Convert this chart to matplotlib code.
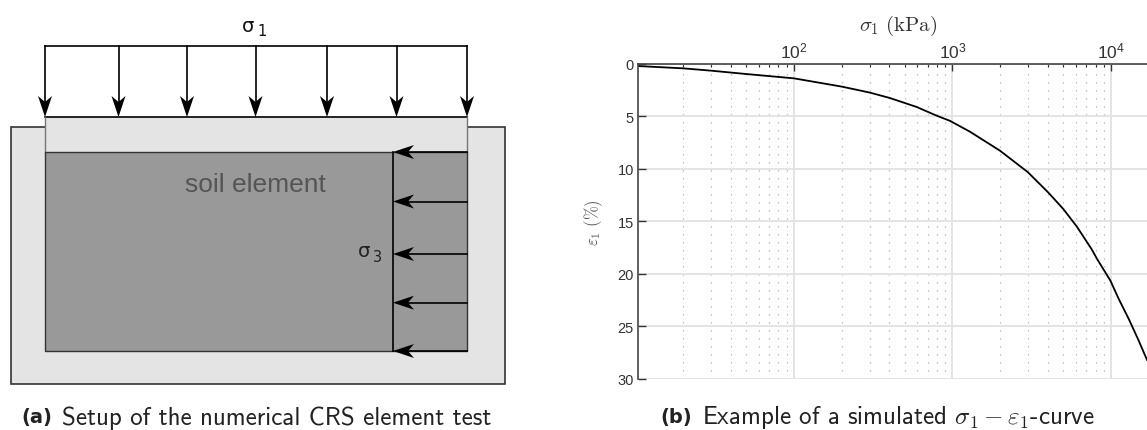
import math
import matplotlib
matplotlib.use('Agg')
import matplotlib.pyplot as plt
from matplotlib.patches import Polygon, Rectangle
from matplotlib.ticker import FixedLocator, FuncFormatter, NullFormatter

W, H = 1147, 431

# curve
sigma1 = [10.4, 20, 30, 50, 100, 201, 302, 403, 594, 795, 964, 1288, 1995, 2994,
          4006, 5000, 6085, 7530, 8166, 9910, 11200, 12940, 14800, 16870]
eps1 = [0.24, 0.46, 0.68, 1.0, 1.41, 2.2, 2.77, 3.28, 4.13, 4.96, 5.45, 6.48, 8.29, 10.34,
        12.24, 13.83, 15.5, 17.63, 18.58, 20.64, 22.4, 24.29, 26.2, 28.18]
eps_ticks = [0, 5, 10, 15, 20, 25, 30]
sigma_ticks = [100, 1000, 10000]
sigma_minor = [m * 10 ** e for e in (1, 2, 3) for m in range(2, 10)]

# panel (a) layout, pixels
load_x = [45, 118.5, 187, 255.5, 327, 396.5, 467]
side_y = [153, 202.5, 255, 303.7, 352]

plt.rcParams['font.family'] = ['Liberation Sans', 'DejaVu Sans']
plt.rcParams['mathtext.fontset'] = 'cm'

fig = plt.figure(figsize=(W / 100, H / 100), dpi=100)

# overlay in pixel coordinates
bg = fig.add_axes([0, 0, 1, 1])
bg.set_xlim(0, W)
bg.set_ylim(H, 0)
bg.axis('off')


def stealth(ax, x, y, dx, dy, length=21, half=7, notch=6):
    # tip at x,y pointing along dx,dy
    px, py = -dy, dx
    pts = [(x, y),
           (x - dx * length + px * half, y - dy * length + py * half),
           (x - dx * (length - notch), y - dy * (length - notch)),
           (x - dx * length - px * half, y - dy * length - py * half)]
    ax.add_patch(Polygon(pts, closed=True, fc='black', ec='none', zorder=5))


edge = '#333333'
bg.add_patch(Rectangle((10.5, 127.5), 494, 257.5, fc='#e4e4e4', ec=edge, lw=1.2))
bg.add_patch(Rectangle((45, 118), 422, 35, fc='#e4e4e4', ec='none', zorder=2))
bg.plot([45, 467], [118, 118], color='black', lw=1.2, zorder=3)
bg.plot([45, 45], [118, 153], color='#777777', lw=1, zorder=3)
bg.plot([467, 467], [118, 153], color='#777777', lw=1, zorder=3)
bg.add_patch(Rectangle((45, 153), 422, 199, fc='#999999', ec=edge, lw=1, zorder=3))

bg.plot([45, 467], [47, 47], color='black', lw=1.2, zorder=4)
for x in load_x:
    bg.plot([x, x], [47, 112], color='black', lw=1.2, zorder=4)
    stealth(bg, x, 118, 0, 1)

bg.plot([393, 393], [153, 352], color='black', lw=1.2, zorder=4)
for y in side_y:
    bg.plot([400, 467], [y, y], color='black', lw=1.2, zorder=4)
    stealth(bg, 393, y, -1, 0)

bg.text(254.5, 26, '\u03c3', fontsize=14, ha='right', va='center', color='#111111', family='DejaVu Sans')
bg.text(257, 31, '1', fontsize=10.5, ha='left', va='center', color='#111111', family='DejaVu Sans')
bg.text(255, 185, 'soil element', fontsize=19, ha='center', va='center', color='#555555', zorder=6)
bg.text(370, 252, '\u03c3', fontsize=14, ha='right', va='center', color='#222222', family='DejaVu Sans', zorder=6)
bg.text(373, 258, '3', fontsize=10.5, ha='left', va='center', color='#222222', family='DejaVu Sans', zorder=6)

# captions
bg.text(21, 418, '(a)', fontsize=14, fontweight='bold', family='DejaVu Sans', ha='left', va='center', color='#222222')
bg.text(62, 418, 'Setup of the numerical CRS element test', fontsize=18, family='cmss10', ha='left', va='center', color='#222222')
bg.text(660, 418, '(b)', fontsize=14, fontweight='bold', family='DejaVu Sans', ha='left', va='center', color='#222222')
bg.text(702, 418, 'Example of a simulated $\\sigma_1 - \\varepsilon_1$-curve', fontsize=18,
        family='cmss10', ha='left', va='center', color='#222222')

# panel (b)
left, right, top, bottom = 638, 1147, 64.5, 380
ax = fig.add_axes([left / W, 1 - bottom / H, (right - left) / W, (bottom - top) / H])
ax.patch.set_alpha(0)
ax.plot(sigma1, eps1, color='black', lw=1.3)
ax.set_xscale('log')
ax.set_xlim(10.4, 16870)
ax.set_ylim(30, 0)
ax.xaxis.set_major_locator(FixedLocator(sigma_ticks))
ax.xaxis.set_minor_locator(FixedLocator(sigma_minor))
ax.xaxis.set_minor_formatter(NullFormatter())
ax.xaxis.set_major_formatter(FuncFormatter(lambda v, p: '$\\mathregular{10^{%d}}$' % round(math.log10(v))))
ax.set_yticks(eps_ticks)
ax.xaxis.tick_top()
ax.xaxis.set_label_position('top')
ax.grid(True, which='major', color='#e2e2e2', lw=1.3)
ax.grid(True, which='minor', axis='x', color='#b0b0b0', lw=0.9, ls=(0, (1, 5.4)))
for s in ('right', 'bottom'):
    ax.spines[s].set_visible(False)
for s in ('top', 'left'):
    ax.spines[s].set_color('#444444')
    ax.spines[s].set_linewidth(1.2)
ax.tick_params(axis='y', which='major', direction='in', length=5.5, width=1, color='#333333',
               labelsize=10.5, labelcolor='#333333', pad=3)
ax.tick_params(axis='x', which='major', direction='in', length=5, width=1, color='#333333',
               labelsize=12.5, labelcolor='#333333', pad=2)
ax.tick_params(axis='x', which='minor', direction='in', length=2.5, width=0.8, color='#333333')
ax.set_axisbelow(True)
ax.set_xlabel('$\\sigma_1\\ \\mathrm{(kPa)}$', fontsize=15, color='#333333')
ax.xaxis.set_label_coords(0.512, 1.105)
ax.set_ylabel('$\\varepsilon_1\\ \\mathrm{(\\%)}$', fontsize=12, color='#555555')
ax.yaxis.set_label_coords(-0.065, 0.5)

fig.savefig('out.png', dpi=100)
